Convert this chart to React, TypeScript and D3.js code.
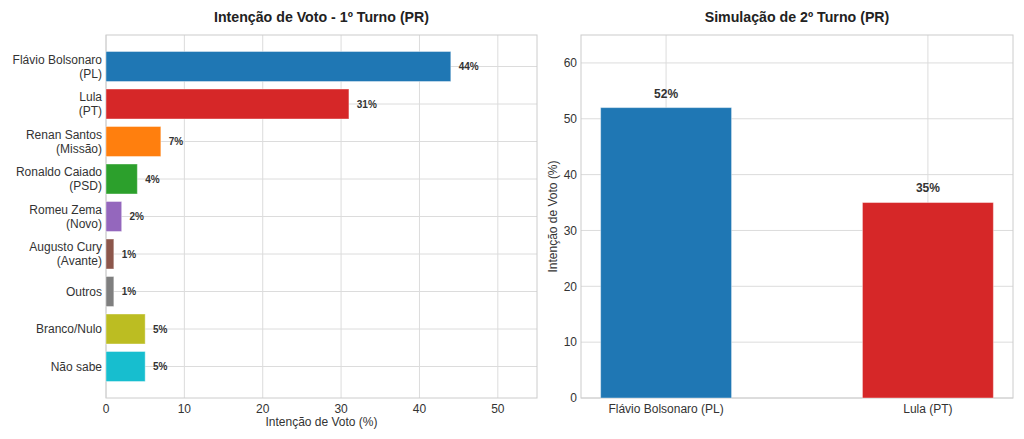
import React from "react";
import * as d3 from "d3";

const firstRoundLabels = [
  "Flávio Bolsonaro\n(PL)",
  "Lula\n(PT)",
  "Renan Santos\n(Missão)",
  "Ronaldo Caiado\n(PSD)",
  "Romeu Zema\n(Novo)",
  "Augusto Cury\n(Avante)",
  "Outros",
  "Branco/Nulo",
  "Não sabe",
];
const firstRoundValues = [44, 31, 7, 4, 2, 1, 1, 5, 5];
const firstRoundColors = [
  "#1f77b4", "#d62728", "#ff7f0e", "#2ca02c", "#9467bd",
  "#8c564b", "#7f7f7f", "#bcbd22", "#17becf",
];
const firstRoundTicks = [0, 10, 20, 30, 40, 50];

const secondRoundLabels = ["Flávio Bolsonaro (PL)", "Lula (PT)"];
const secondRoundValues = [52, 35];
const secondRoundColors = ["#1f77b4", "#d62728"];
const secondRoundTicks = [0, 10, 20, 30, 40, 50, 60];

const FONT = "'Liberation Sans', Arial, sans-serif";
const GRID = "#dcdcdc";
const SPINE = "#cccccc";
const TXT = "#333333";

export default function App() {
  // Left panel
  const L = { left: 106, right: 537, top: 35, bottom: 398 };
  const x1 = d3.scaleLinear().domain([0, 55]).range([L.left, L.right]);
  const n = firstRoundValues.length;
  const y1 = d3.scaleLinear().domain([-0.84, n - 1 + 0.84]).range([L.top, L.bottom]);
  const bh1 = y1(0.4) - y1(-0.4);

  // Right panel
  const R = { left: 581, right: 1013, top: 35, bottom: 398 };
  const x2 = d3.scaleLinear().domain([-0.325, 1.325]).range([R.left, R.right]);
  const y2 = d3.scaleLinear().domain([0, 65]).range([R.bottom, R.top]);
  const bw2 = x2(0.25) - x2(-0.25);

  return (
    <svg width={1024} height={439} style={{ position: "absolute", left: 0, top: 0 }} fontFamily={FONT}>
      <rect width={1024} height={439} fill="#fff" />
      {/* LEFT */}
      <text x={(L.left + L.right) / 2} y={22} textAnchor="middle" fontWeight="bold" fontSize={14.2} fill="#222">
        Intenção de Voto - 1º Turno (PR)
      </text>
      {firstRoundTicks.map((t) => (
        <line key={"gx" + t} x1={x1(t)} x2={x1(t)} y1={L.top} y2={L.bottom} stroke={GRID} strokeWidth={1} />
      ))}
      {firstRoundValues.map((_, i) => (
        <line key={"gy" + i} x1={L.left} x2={L.right} y1={y1(i)} y2={y1(i)} stroke={GRID} strokeWidth={1} />
      ))}
      <rect x={L.left} y={L.top} width={L.right - L.left} height={L.bottom - L.top} fill="none" stroke={SPINE} strokeWidth={1} />
      {firstRoundValues.map((v, i) => (
        <rect
          key={"b" + i}
          x={x1(0)}
          y={y1(i) - bh1 / 2}
          width={x1(v) - x1(0)}
          height={bh1}
          fill={firstRoundColors[i]}
          stroke="#ffffff"
          strokeOpacity={0.4}
          strokeWidth={1}
        />
      ))}
      {firstRoundValues.map((v, i) => (
        <text key={"v" + i} x={x1(v + 1)} y={y1(i)} dy="0.35em" fontSize={10} fontWeight="bold" fill={TXT}>
          {v}%
        </text>
      ))}
      {firstRoundLabels.map((lab, i) => {
        const lines = lab.split("\n");
        const off = ((lines.length - 1) * 14) / 2;
        return (
          <text key={"l" + i} x={L.left - 4} y={y1(i) - off} textAnchor="end" fontSize={12} fill={TXT}>
            {lines.map((ln, j) => (
              <tspan key={j} x={L.left - 4} dy={j === 0 ? "0.35em" : 14}>
                {ln}
              </tspan>
            ))}
          </text>
        );
      })}
      {firstRoundTicks.map((t) => (
        <text key={"tx" + t} x={x1(t)} y={L.bottom + 15} textAnchor="middle" fontSize={12} fill={TXT}>
          {t}
        </text>
      ))}
      <text x={(L.left + L.right) / 2} y={426} textAnchor="middle" fontSize={12} fill={TXT}>
        Intenção de Voto (%)
      </text>

      {/* RIGHT */}
      <text x={(R.left + R.right) / 2} y={22} textAnchor="middle" fontWeight="bold" fontSize={14.2} fill="#222">
        Simulação de 2º Turno (PR)
      </text>
      {secondRoundTicks.map((t) => (
        <line key={"g2y" + t} x1={R.left} x2={R.right} y1={y2(t)} y2={y2(t)} stroke={GRID} strokeWidth={1} />
      ))}
      {secondRoundValues.map((_, i) => (
        <line key={"g2x" + i} x1={x2(i)} x2={x2(i)} y1={R.top} y2={R.bottom} stroke={GRID} strokeWidth={1} />
      ))}
      <rect x={R.left} y={R.top} width={R.right - R.left} height={R.bottom - R.top} fill="none" stroke={SPINE} strokeWidth={1} />
      {secondRoundValues.map((v, i) => (
        <rect
          key={"b2" + i}
          x={x2(i) - bw2 / 2}
          y={y2(v)}
          width={bw2}
          height={y2(0) - y2(v)}
          fill={secondRoundColors[i]}
          stroke="#ffffff"
          strokeOpacity={0.4}
          strokeWidth={1}
        />
      ))}
      {secondRoundValues.map((v, i) => (
        <text key={"v2" + i} x={x2(i)} y={y2(v + 1.8)} textAnchor="middle" fontSize={12} fontWeight="bold" fill={TXT}>
          {v}%
        </text>
      ))}
      {secondRoundTicks.map((t) => (
        <text key={"ty" + t} x={R.left - 4} y={y2(t)} dy="0.35em" textAnchor="end" fontSize={12} fill={TXT}>
          {t}
        </text>
      ))}
      {secondRoundLabels.map((lab, i) => (
        <text key={"xl" + i} x={x2(i)} y={R.bottom + 15} textAnchor="middle" fontSize={12} fill={TXT}>
          {lab}
        </text>
      ))}
      <text
        transform={`translate(557,${(R.top + R.bottom) / 2}) rotate(-90)`}
        textAnchor="middle"
        fontSize={12}
        fill={TXT}
      >
        Intenção de Voto (%)
      </text>
    </svg>
  );
}
